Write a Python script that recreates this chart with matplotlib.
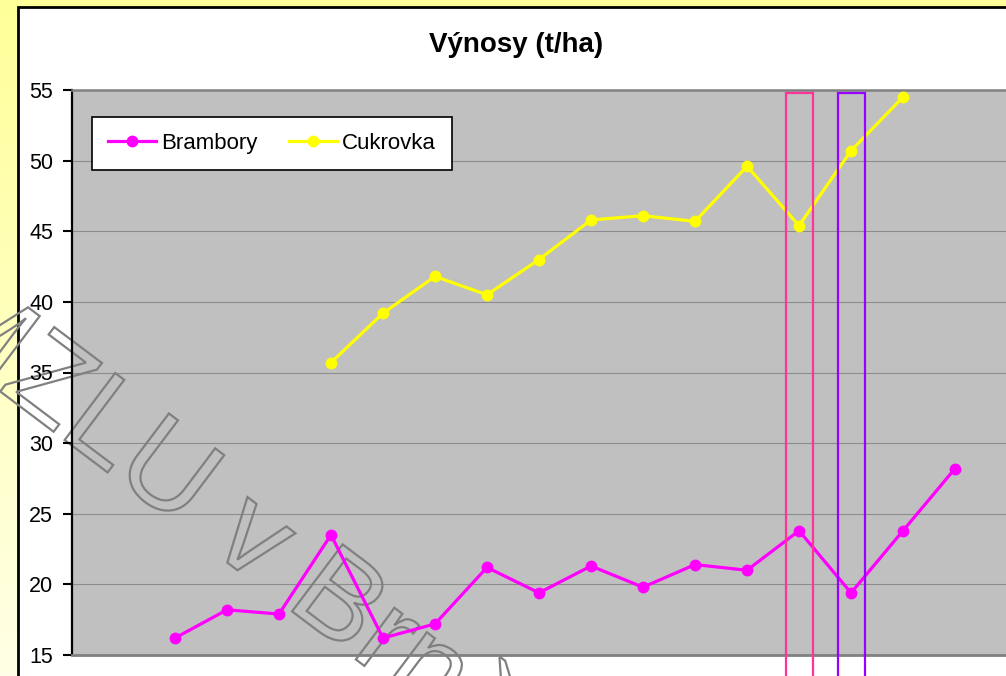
import numpy as np
import matplotlib
matplotlib.use("Agg")
import matplotlib.pyplot as plt
from matplotlib.patches import Rectangle, PathPatch
from matplotlib.textpath import TextPath
from matplotlib.font_manager import FontProperties
from matplotlib.colors import LinearSegmentedColormap
from matplotlib import transforms

plt.rcParams['font.family'] = ['Liberation Sans', 'DejaVu Sans']

# Data (category index, value in t/ha)
roky = list(range(16))
brambory = [16.2, 18.2, 17.9, 23.5, 16.2, 17.2, 21.2, 19.4, 21.3, 19.8, 21.4, 21.0, 23.8, 19.4, 23.8, 28.2]
cukrovka = [np.nan, np.nan, np.nan, 35.7, 39.2, 41.8, 40.5, 43.0, 45.8, 46.1, 45.7, 49.6, 45.4, 50.7, 54.5, np.nan]
zvyraznene = [12, 13]          # highlighted categories
barvy_ramecku = ['#FF3399', '#9900FF']

W, H = 1006, 676
fig = plt.figure(figsize=(W / 100, H / 100), dpi=100)

# pale yellow background gradient
bg = fig.add_axes([0, 0, 1, 1], zorder=-3)
cmap = LinearSegmentedColormap.from_list('bg', ['#FFFFE6', '#FFFF99'])
bg.imshow(np.linspace(0, 1, 256).reshape(-1, 1)[::-1], cmap=cmap, aspect='auto', extent=[0, 1, 0, 1])
bg.axis('off')

# white chart area with black frame
fig.add_artist(Rectangle((18 / W, -0.1), 1.2, 1 - 7 / H + 0.1, transform=fig.transFigure,
                         facecolor='white', edgecolor='black', lw=2, zorder=-2))

ax = fig.add_axes([72 / W, 1 - 655 / H, 1 - 72 / W, (655 - 90) / H], zorder=0)
ax.set_facecolor('#C0C0C0')

ax.plot(roky, brambory, color='#FF00FF', lw=2.3, marker='o', ms=7.5, label='Brambory', zorder=3)
ax.plot(roky, cukrovka, color='#FFFF00', lw=2.3, marker='o', ms=7.5, label='Cukrovka', zorder=3)

# highlight frames
for idx, c in zip(zvyraznene, barvy_ramecku):
    ax.add_patch(Rectangle((idx - 0.26, 5), 0.52, 54.8 - 5, facecolor='none', edgecolor=c,
                           lw=1.6, clip_on=False, zorder=4))

ax.set_xlim(-1.98, 15.98)
ax.set_ylim(15, 55)
ax.set_yticks(range(15, 56, 5))
ax.yaxis.grid(True, color='#8c8c8c', lw=0.8)
ax.set_axisbelow(True)
ax.tick_params(axis='y', length=6.5, width=1.5, labelsize=15.5, pad=7, colors='black')
ax.tick_params(axis='x', bottom=False, labelbottom=False)
ax.spines['right'].set_visible(False)
ax.spines['left'].set_linewidth(1.6)
ax.spines['left'].set_color('black')
ax.spines['top'].set_color('#808080')
ax.spines['top'].set_linewidth(1.8)
ax.spines['bottom'].set_color('#808080')
ax.spines['bottom'].set_linewidth(2)

leg = ax.legend(loc='upper left', bbox_to_anchor=(92 / W, 1 - 117 / H), bbox_transform=fig.transFigure,
                ncol=2, fontsize=16, frameon=True, fancybox=False, framealpha=1, edgecolor='black',
                borderaxespad=0, handlelength=2.15, handletextpad=0.25, columnspacing=1.4,
                borderpad=0.72)
leg.get_frame().set_linewidth(1.2)
leg.set_zorder(6)

fig.text(516 / W, 1 - 45 / H, 'Výnosy (t/ha)', ha='center', va='center', fontsize=20, weight='bold')

# outlined watermark: under the data lines, over the backgrounds
tp = TextPath((0, 0), 'MZLU v Brně', size=122, prop=FontProperties(family='Liberation Sans'))
tr = transforms.Affine2D().rotate_deg(-37).translate(-84, H - 328).scale(1 / 100) + fig.dpi_scale_trans
fig.add_artist(PathPatch(tp, transform=tr, facecolor='none', edgecolor='#808080', lw=1.6, zorder=-1))
ax.add_patch(PathPatch(tp, transform=tr, facecolor='none', edgecolor='#808080', lw=1.6, zorder=2))

fig.savefig('out.png', dpi=100)
